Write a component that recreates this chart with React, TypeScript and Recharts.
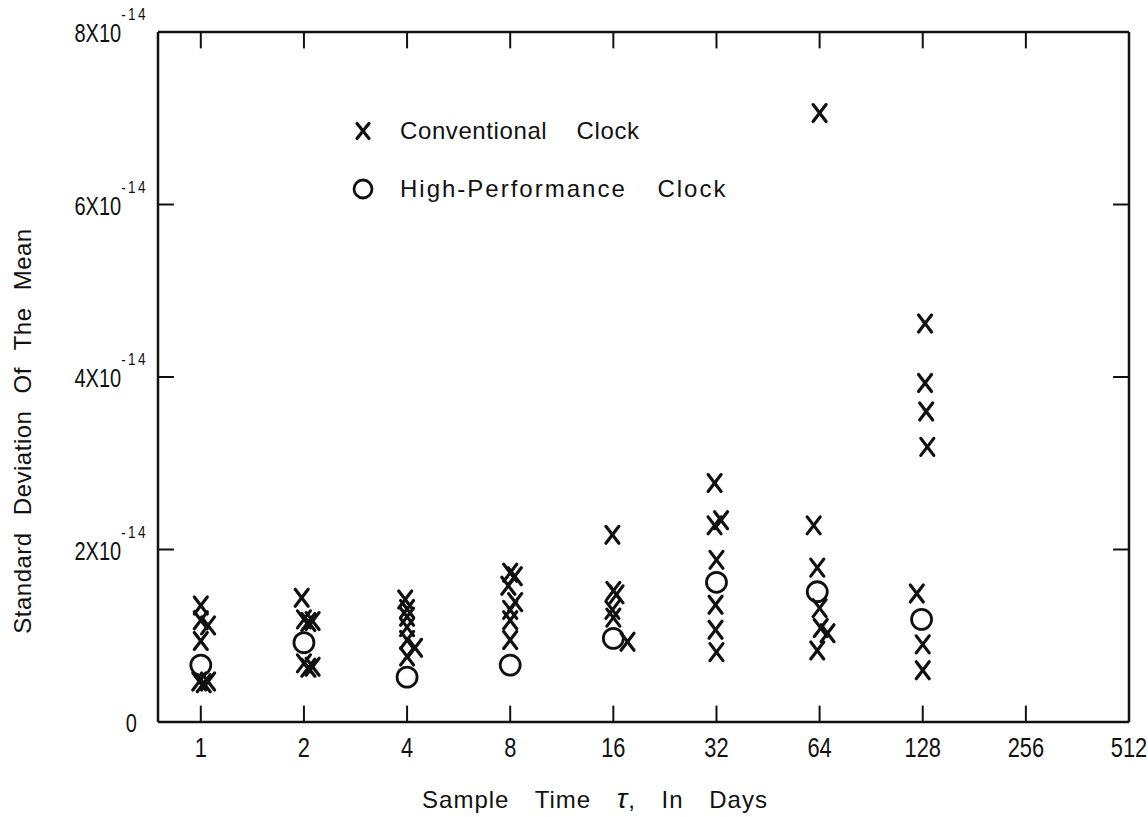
import { Legend, ReferenceLine, Scatter, ScatterChart, XAxis, YAxis } from "recharts"

const FONT = '"Liberation Sans", Arial, sans-serif'
const INK = "#111"

// sample time tau in days (small offsets = marks drawn beside the tick in the original)
const conventionalTau = [
  1, 1, 1.05, 1, 0.99, 1.02, 1.05,
  1.97, 2.0, 2.06, 2.12, 2.0, 2.06, 2.12,
  3.95, 4, 4, 4, 4, 4.22, 4,
  8, 8.25, 7.9, 8.27, 8, 8, 8,
  15.9, 16, 16.35, 15.9, 16, 17.6,
  31.6, 31.6, 33, 32, 31.8, 31.8, 32,
  64, 61.5, 63, 64, 64.5, 67.5, 63,
  130, 130, 131, 132, 123, 128, 128,
]
// standard deviation of the mean, in units of 1e-14
const conventionalSigma = [
  1.35, 1.18, 1.12, 0.94, 0.47, 0.45, 0.47,
  1.44, 1.19, 1.16, 1.17, 0.68, 0.63, 0.64,
  1.42, 1.31, 1.22, 1.1, 0.95, 0.86, 0.76,
  1.73, 1.69, 1.58, 1.39, 1.3, 1.18, 0.95,
  2.17, 1.52, 1.48, 1.3, 1.21, 0.93,
  2.77, 2.28, 2.34, 1.88, 1.36, 1.07, 0.81,
  7.06, 2.28, 1.79, 1.32, 1.09, 1.03, 0.83,
  4.62, 3.93, 3.6, 3.19, 1.49, 0.9, 0.6,
]

const highPerfTau = [1, 2, 4, 8, 16, 32, 63, 127]
const highPerfSigma = [0.66, 0.92, 0.52, 0.66, 0.97, 1.62, 1.51, 1.19]

const xTicks = [1, 2, 4, 8, 16, 32, 64, 128, 256, 512]
const yTicks = [0, 2, 4, 6, 8]

const X_MIN = 0.75
const X_MAX = 512
const Y_MAX = 8
// inward tick marks, length given in axis units (~16px)
const TICK_DY = 0.19
const TICK_FX = 1.113

const conventional = conventionalTau.map((tau, i) => ({ tau, sigma: conventionalSigma[i] }))
const highPerf = highPerfTau.map((tau, i) => ({ tau, sigma: highPerfSigma[i] }))

const innerXTicks = xTicks.filter((t) => t < X_MAX)
const innerYTicks = yTicks.filter((v) => v > 0 && v < Y_MAX)

function XMark({ cx, cy, w = 6.5, h = 8.5 }: any) {
  return (
    <g stroke={INK} strokeWidth={3.2} strokeLinecap="round">
      <line x1={cx - w} y1={cy - h} x2={cx + w} y2={cy + h} />
      <line x1={cx - w} y1={cy + h} x2={cx + w} y2={cy - h} />
    </g>
  )
}

function OMark({ cx, cy, r = 10 }: any) {
  return <circle cx={cx} cy={cy} r={r} fill="none" stroke={INK} strokeWidth={2.8} />
}

// the lettering in the original is narrow, so squeeze the tick labels horizontally
function YTick({ x, y, payload }: any) {
  const isZero = payload.value === 0
  return (
    <g transform={`translate(${isZero ? x - 11 : x},${y + 10}) scale(0.8,1)`}>
      <text x={0} y={0} textAnchor="end" fontFamily={FONT} fontSize={25} fill={INK}>
        {isZero ? "0" : `${payload.value}X10`}
        {!isZero && (
          <tspan dy={-22} fontSize={17} letterSpacing={3}>
            -14
          </tspan>
        )}
      </text>
    </g>
  )
}

function XTick({ x, y, payload }: any) {
  return (
    <g transform={`translate(${x},${y + 21}) scale(0.78,1)`}>
      <text x={0} y={0} textAnchor="middle" fontFamily={FONT} fontSize={28} fill={INK}>
        {payload.value}
      </text>
    </g>
  )
}

function YTitle({ viewBox }: any) {
  const x = viewBox.x + 22
  const y = viewBox.y + viewBox.height / 2 + 54
  return (
    <text
      x={x}
      y={y}
      transform={`rotate(-90 ${x} ${y})`}
      textAnchor="middle"
      dominantBaseline="central"
      fontFamily={FONT}
      fontSize={24}
      fill={INK}
      style={{ letterSpacing: 0.5, wordSpacing: 10 }}
    >
      Standard Deviation Of The Mean
    </text>
  )
}

function XTitle({ viewBox }: any) {
  const x = viewBox.x + 437
  const y = viewBox.y + 86
  return (
    <text
      x={x}
      y={y}
      textAnchor="middle"
      fontFamily={FONT}
      fontSize={24}
      fill={INK}
      style={{ letterSpacing: 1, wordSpacing: 18 }}
    >
      Sample Time <tspan fontStyle="italic" fontSize={28}>τ</tspan>, In Days
    </text>
  )
}

const renderLegend = () => (
  <div style={{ fontFamily: FONT, fontSize: 24, color: INK }}>
    <div style={{ display: "flex", alignItems: "center", height: 30 }}>
      <svg width={30} height={30}>
        <XMark cx={15} cy={15} w={6} h={7.5} />
      </svg>
      <span style={{ marginLeft: 22, letterSpacing: 0.6, wordSpacing: 22 }}>Conventional Clock</span>
    </div>
    <div style={{ display: "flex", alignItems: "center", height: 30, marginTop: 28 }}>
      <svg width={30} height={30}>
        <OMark cx={15} cy={15} r={9} />
      </svg>
      <span style={{ marginLeft: 22, letterSpacing: 2, wordSpacing: 22 }}>High-Performance Clock</span>
    </div>
  </div>
)

const tickLineProps = { stroke: INK, strokeWidth: 2, ifOverflow: "visible" as const }

export default function App() {
  return (
    <div style={{ position: "absolute", left: 0, top: 0, background: "#fff" }}>
      <ScatterChart width={1148} height={817} margin={{ top: 32, right: 19, bottom: 0, left: 0 }}>
        <XAxis
          dataKey="tau"
          type="number"
          scale="log"
          domain={[X_MIN, X_MAX]}
          ticks={xTicks}
          interval={0}
          allowDataOverflow
          height={95}
          stroke={INK}
          strokeWidth={2.5}
          tickLine={false}
          tickSize={0}
          tickMargin={14}
          tick={<XTick />}
          label={<XTitle />}
        />
        <YAxis
          dataKey="sigma"
          type="number"
          domain={[0, Y_MAX]}
          ticks={yTicks}
          interval={0}
          allowDataOverflow
          width={158}
          stroke={INK}
          strokeWidth={2.5}
          tickLine={false}
          tickSize={0}
          tickMargin={10}
          tick={<YTick />}
          label={<YTitle />}
        />

        {/* top and right frame edges */}
        <ReferenceLine y={Y_MAX} stroke={INK} strokeWidth={2.5} ifOverflow="visible" />
        <ReferenceLine x={X_MAX} stroke={INK} strokeWidth={2.5} ifOverflow="visible" />

        {/* inward tick marks on all four sides */}
        {innerXTicks.map((t) => (
          <ReferenceLine key={`b${t}`} segment={[{ x: t, y: 0 }, { x: t, y: TICK_DY }]} {...tickLineProps} />
        ))}
        {innerXTicks.map((t) => (
          <ReferenceLine
            key={`t${t}`}
            segment={[{ x: t, y: Y_MAX }, { x: t, y: Y_MAX - TICK_DY }]}
            {...tickLineProps}
          />
        ))}
        {innerYTicks.map((v) => (
          <ReferenceLine
            key={`l${v}`}
            segment={[{ x: X_MIN, y: v }, { x: X_MIN * TICK_FX, y: v }]}
            {...tickLineProps}
          />
        ))}
        {innerYTicks.map((v) => (
          <ReferenceLine
            key={`r${v}`}
            segment={[{ x: X_MAX / TICK_FX, y: v }, { x: X_MAX, y: v }]}
            {...tickLineProps}
          />
        ))}

        <Legend
          content={renderLegend}
          layout="vertical"
          align="center"
          verticalAlign="middle"
          wrapperStyle={{ position: "absolute", left: 348, top: 116, width: 420, bottom: "auto", right: "auto" }}
        />
        <Scatter
          name="Conventional Clock"
          data={conventional}
          shape={(p: any) => <XMark cx={p.cx} cy={p.cy} />}
          isAnimationActive={false}
        />
        <Scatter
          name="High-Performance Clock"
          data={highPerf}
          shape={(p: any) => <OMark cx={p.cx} cy={p.cy} />}
          isAnimationActive={false}
        />
      </ScatterChart>
    </div>
  )
}
